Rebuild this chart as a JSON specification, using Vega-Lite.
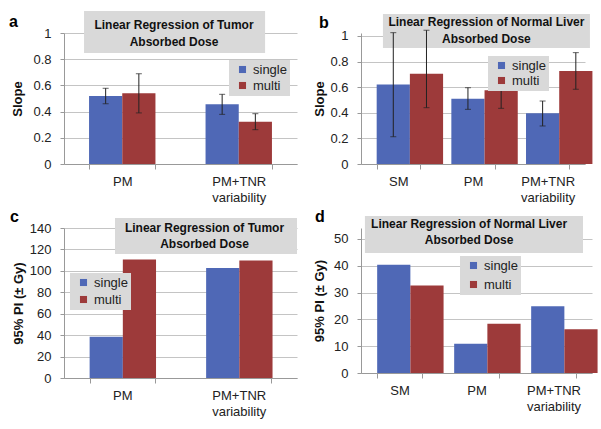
{
  "$schema": "https://vega.github.io/schema/vega-lite/v6.json",
  "padding": {"left": 9, "top": 10, "right": 4, "bottom": 4},
  "background": "white",
  "columns": 2,
  "spacing": {"row": 64, "column": 64},
  "bounds": "flush",
  "resolve": {"scale": {"color": "independent"}, "legend": {"color": "independent"}},
  "config": {
    "font": "Liberation Sans",
    "view": {"stroke": null},
    "axis": {"labelFont": "Liberation Sans", "titleFont": "Liberation Sans", "labelColor": "#222", "titleColor": "#111", "domainColor": "#999", "tickColor": "#999", "gridColor": "#c4c4c4"},
    "axisY": {"grid": true, "tickSize": 4, "tickCount": 20, "labelOverlap": false, "labelPadding": 9, "labelFontSize": 13, "titleFontSize": 13, "titleFontWeight": "bold", "titleBaseline": "middle"},
    "axisX": {"grid": false, "labelFontSize": 13, "labelPadding": 6, "tickSize": 5, "labelAngle": 0, "labelLineHeight": 16, "tickBand": "extent", "title": null, "labelExpr": "split(datum.label, ' ')"},
    "legend": {"orient": "none", "title": null, "symbolType": "square", "symbolSize": 50, "symbolStrokeWidth": 0, "labelFontSize": 13, "labelColor": "#222", "labelFont": "Liberation Sans", "fillColor": "#d9d9d9", "padding": 3, "rowPadding": 2, "symbolOffset": 4},
    "title": {"font": "Liberation Sans", "fontSize": 16, "fontWeight": "bold", "color": "#000", "anchor": "start", "frame": "group", "baseline": "alphabetic"}
  },
  "concat": [
    {
      "width": 233, "height": 131,
      "title": {"text": "a", "dx": -55, "offset": -19},
      "layer": [
        {
          "data": {"values": [{"t": ["Linear Regression of Tumor", "Absorbed Dose"]}]},
          "mark": {"type": "rect", "color": "#d9d9d9"},
          "encoding": {
            "x": {"datum": 0.086, "type": "quantitative", "scale": {"domain": [0, 1]}, "axis": null},
            "x2": {"datum": 0.863},
            "y": {"datum": 1.168, "type": "quantitative", "scale": {"domain": [0, 1]}},
            "y2": {"datum": 0.847}
          }
        },
        {
          "data": {"values": [{"t": ["Linear Regression of Tumor", "Absorbed Dose"]}]},
          "mark": {"type": "text", "fontWeight": "bold", "fontSize": 12, "lineHeight": 17, "baseline": "middle", "color": "#111"},
          "encoding": {
            "x": {"datum": 0.472, "type": "quantitative", "scale": {"domain": [0, 1]}, "axis": null},
            "y": {"datum": 1.061, "type": "quantitative", "scale": {"domain": [0, 1]}},
            "text": {"field": "t"}
          }
        },
        {
          "data": {"values": [
            {"cat": "PM", "s": "single", "v": 0.52, "lo": 0.46, "hi": 0.578},
            {"cat": "PM", "s": "multi", "v": 0.54, "lo": 0.39, "hi": 0.689},
            {"cat": "PM+TNR variability", "s": "single", "v": 0.456, "lo": 0.379, "hi": 0.532},
            {"cat": "PM+TNR variability", "s": "multi", "v": 0.323, "lo": 0.262, "hi": 0.384}
          ]},
          "encoding": {
            "x": {"field": "cat", "type": "nominal", "sort": ["PM", "PM+TNR variability"], "scale": {"paddingInner": 0.43, "paddingOuter": 0.215}},
            "xOffset": {"field": "s", "type": "nominal", "sort": ["single", "multi"], "scale": {"paddingInner": 0}}
          },
          "layer": [
            {
              "mark": {"type": "bar"},
              "encoding": {
                "y": {"field": "v", "type": "quantitative", "scale": {"domain": [0, 1]}, "axis": {"title": "Slope", "values": [0, 0.2, 0.4, 0.6, 0.8, 1], "format": "~g", "titleX": -47}},
                "color": {"field": "s", "type": "nominal", "sort": ["single", "multi"], "scale": {"domain": ["single", "multi"], "range": ["#4f68b6", "#9d3a3a"]}, "legend": {"legendX": 165, "legendY": 27}}
              }
            },
            {
              "mark": {"type": "rule", "color": "#222", "strokeWidth": 1},
              "encoding": {"y": {"field": "lo", "type": "quantitative", "scale": {"domain": [0, 1]}}, "y2": {"field": "hi"}}
            },
            {
              "mark": {"type": "tick", "color": "#222", "size": 6, "thickness": 1},
              "encoding": {"y": {"field": "lo", "type": "quantitative", "scale": {"domain": [0, 1]}}}
            },
            {
              "mark": {"type": "tick", "color": "#222", "size": 6, "thickness": 1},
              "encoding": {"y": {"field": "hi", "type": "quantitative", "scale": {"domain": [0, 1]}}}
            }
          ]
        }
      ],
      "resolve": {"scale": {"x": "independent"}}
    },
    {
      "width": 224, "height": 131,
      "title": {"text": "b", "dx": -42, "offset": -17},
      "layer": [
        {
          "data": {"values": [{"t": ["Linear Regression of Normal Liver", "Absorbed Dose"]}]},
          "mark": {"type": "rect", "color": "#d9d9d9"},
          "encoding": {
            "x": {"datum": 0.098, "type": "quantitative", "scale": {"domain": [0, 1]}, "axis": null},
            "x2": {"datum": 1.022},
            "y": {"datum": 1.172, "type": "quantitative", "scale": {"domain": [0, 1.0234]}},
            "y2": {"datum": 0.906}
          }
        },
        {
          "data": {"values": [{"t": ["Linear Regression of Normal Liver", "Absorbed Dose"]}]},
          "mark": {"type": "text", "fontWeight": "bold", "fontSize": 12, "lineHeight": 17, "baseline": "middle", "color": "#111"},
          "encoding": {
            "x": {"datum": 0.56, "type": "quantitative", "scale": {"domain": [0, 1]}, "axis": null},
            "y": {"datum": 1.109, "type": "quantitative", "scale": {"domain": [0, 1.0234]}},
            "text": {"field": "t"}
          }
        },
        {
          "data": {"values": [
            {"cat": "SM", "s": "single", "v": 0.622, "lo": 0.213, "hi": 1.026},
            {"cat": "SM", "s": "multi", "v": 0.705, "lo": 0.44, "hi": 1.045},
            {"cat": "PM", "s": "single", "v": 0.51, "lo": 0.427, "hi": 0.596},
            {"cat": "PM", "s": "multi", "v": 0.576, "lo": 0.435, "hi": 0.727},
            {"cat": "PM+TNR variability", "s": "single", "v": 0.396, "lo": 0.297, "hi": 0.492},
            {"cat": "PM+TNR variability", "s": "multi", "v": 0.727, "lo": 0.584, "hi": 0.87}
          ]},
          "encoding": {
            "x": {"field": "cat", "type": "nominal", "sort": ["SM", "PM", "PM+TNR variability"], "scale": {"paddingInner": 0.42, "paddingOuter": 0.21}},
            "xOffset": {"field": "s", "type": "nominal", "sort": ["single", "multi"], "scale": {"paddingInner": 0}}
          },
          "layer": [
            {
              "mark": {"type": "bar"},
              "encoding": {
                "y": {"field": "v", "type": "quantitative", "scale": {"domain": [0, 1.0234]}, "axis": {"title": "Slope", "values": [0, 0.2, 0.4, 0.6, 0.8, 1], "format": "~g", "titleX": -42}},
                "color": {"field": "s", "type": "nominal", "sort": ["single", "multi"], "scale": {"domain": ["single", "multi"], "range": ["#4f68b6", "#9d3a3a"]}, "legend": {"legendX": 127, "legendY": 23, "rowPadding": 1}}
              }
            },
            {
              "mark": {"type": "rule", "color": "#222", "strokeWidth": 1},
              "encoding": {"y": {"field": "lo", "type": "quantitative", "scale": {"domain": [0, 1.0234]}}, "y2": {"field": "hi"}}
            },
            {
              "mark": {"type": "tick", "color": "#222", "size": 6, "thickness": 1},
              "encoding": {"y": {"field": "lo", "type": "quantitative", "scale": {"domain": [0, 1.0234]}}}
            },
            {
              "mark": {"type": "tick", "color": "#222", "size": 6, "thickness": 1},
              "encoding": {"y": {"field": "hi", "type": "quantitative", "scale": {"domain": [0, 1.0234]}}}
            }
          ]
        }
      ],
      "resolve": {"scale": {"x": "independent"}}
    },
    {
      "width": 233, "height": 150,
      "title": {"text": "c", "dx": -54, "offset": -7},
      "layer": [
        {
          "data": {"values": [{"t": ["Linear Regression of Tumor", "Absorbed Dose"]}]},
          "mark": {"type": "rect", "color": "#d9d9d9"},
          "encoding": {
            "x": {"datum": 0.219, "type": "quantitative", "scale": {"domain": [0, 1]}, "axis": null},
            "x2": {"datum": 1.0},
            "y": {"datum": 149.3, "type": "quantitative", "scale": {"domain": [0, 140]}},
            "y2": {"datum": 115.7}
          }
        },
        {
          "data": {"values": [{"t": ["Linear Regression of Tumor", "Absorbed Dose"]}]},
          "mark": {"type": "text", "fontWeight": "bold", "fontSize": 12, "lineHeight": 16, "baseline": "middle", "color": "#111"},
          "encoding": {
            "x": {"datum": 0.603, "type": "quantitative", "scale": {"domain": [0, 1]}, "axis": null},
            "y": {"datum": 140.0, "type": "quantitative", "scale": {"domain": [0, 140]}},
            "text": {"field": "t"}
          }
        },
        {
          "data": {"values": [
            {"cat": "PM", "s": "single", "v": 38.6},
            {"cat": "PM", "s": "multi", "v": 110.5},
            {"cat": "PM+TNR variability", "s": "single", "v": 102.7},
            {"cat": "PM+TNR variability", "s": "multi", "v": 109.6}
          ]},
          "mark": {"type": "bar"},
          "encoding": {
            "x": {"field": "cat", "type": "nominal", "sort": ["PM", "PM+TNR variability"], "scale": {"paddingInner": 0.44, "paddingOuter": 0.22}},
            "xOffset": {"field": "s", "type": "nominal", "sort": ["single", "multi"], "scale": {"paddingInner": 0}},
            "y": {"field": "v", "type": "quantitative", "scale": {"domain": [0, 140]}, "axis": {"title": "95% PI (± Gy)", "values": [0, 20, 40, 60, 80, 100, 120, 140], "titleX": -46}},
            "color": {"field": "s", "type": "nominal", "sort": ["single", "multi"], "scale": {"domain": ["single", "multi"], "range": ["#4f68b6", "#9d3a3a"]}, "legend": {"legendX": 6, "legendY": 45, "rowPadding": 3}}
          }
        }
      ],
      "resolve": {"scale": {"x": "independent"}}
    },
    {
      "width": 231, "height": 145,
      "title": {"text": "d", "dx": -46, "offset": -9},
      "layer": [
        {
          "data": {"values": [{"t": ["Linear Regression of Normal Liver", "Absorbed Dose"]}]},
          "mark": {"type": "rect", "color": "#d9d9d9"},
          "encoding": {
            "x": {"datum": 0.017, "type": "quantitative", "scale": {"domain": [0, 1]}, "axis": null},
            "x2": {"datum": 0.961},
            "y": {"datum": 58.6, "type": "quantitative", "scale": {"domain": [0, 54.1]}},
            "y2": {"datum": 44.8}
          }
        },
        {
          "data": {"values": [{"t": ["Linear Regression of Normal Liver", "Absorbed Dose"]}]},
          "mark": {"type": "text", "fontWeight": "bold", "fontSize": 12, "lineHeight": 16, "baseline": "middle", "color": "#111"},
          "encoding": {
            "x": {"datum": 0.468, "type": "quantitative", "scale": {"domain": [0, 1]}, "axis": null},
            "y": {"datum": 55.6, "type": "quantitative", "scale": {"domain": [0, 54.1]}},
            "text": {"field": "t"}
          }
        },
        {
          "data": {"values": [
            {"cat": "SM", "s": "single", "v": 40.4},
            {"cat": "SM", "s": "multi", "v": 32.6},
            {"cat": "PM", "s": "single", "v": 10.9},
            {"cat": "PM", "s": "multi", "v": 18.4},
            {"cat": "PM+TNR variability", "s": "single", "v": 24.9},
            {"cat": "PM+TNR variability", "s": "multi", "v": 16.3}
          ]},
          "mark": {"type": "bar"},
          "encoding": {
            "x": {"field": "cat", "type": "nominal", "sort": ["SM", "PM", "PM+TNR variability"], "scale": {"paddingInner": 0.42, "paddingOuter": 0.21}},
            "xOffset": {"field": "s", "type": "nominal", "sort": ["single", "multi"], "scale": {"paddingInner": 0}},
            "y": {"field": "v", "type": "quantitative", "scale": {"domain": [0, 54.1]}, "axis": {"title": "95% PI (± Gy)", "values": [0, 10, 20, 30, 40, 50], "titleX": -42}},
            "color": {"field": "s", "type": "nominal", "sort": ["single", "multi"], "scale": {"domain": ["single", "multi"], "range": ["#4f68b6", "#9d3a3a"]}, "legend": {"legendX": 99, "legendY": 28, "rowPadding": 5}}
          }
        }
      ],
      "resolve": {"scale": {"x": "independent"}}
    }
  ]
}
